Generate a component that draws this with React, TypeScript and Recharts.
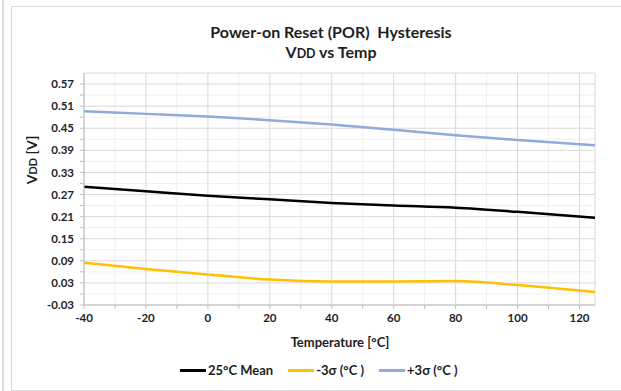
import React from "react";
import {
  LineChart,
  Line,
  XAxis,
  YAxis,
  CartesianGrid,
  ReferenceLine,
} from "recharts";

// ── Data (V vs °C) ─────────────────────────────────────────────────────────
const temps = [-40, -20, 0, 20, 40, 60, 80, 100, 125];
const mean25 = [0.291, 0.279, 0.267, 0.257, 0.247, 0.24, 0.234, 0.223, 0.207];
const minus3s = [0.085, 0.068, 0.053, 0.039, 0.034, 0.034, 0.035, 0.024, 0.005];
const plus3s = [0.496, 0.489, 0.482, 0.472, 0.46, 0.446, 0.431, 0.418, 0.404];

const yMajorTicks = [-0.03, 0.03, 0.09, 0.15, 0.21, 0.27, 0.33, 0.39, 0.45, 0.51, 0.57];
const yMinorTicks = [0, 0.06, 0.12, 0.18, 0.24, 0.3, 0.36, 0.42, 0.48, 0.54];
const xMajorTicks = [-40, -20, 0, 20, 40, 60, 80, 100, 120];
const xMinorTicks = [-30, -10, 10, 30, 50, 70, 90, 110];

const Y_MIN = -0.03;
const Y_MAX = 0.6;
const X_MIN = -40;
const X_MAX = 125;

const data = temps.map((t, i) => ({
  t,
  mean: mean25[i],
  minus: minus3s[i],
  plus: plus3s[i],
}));

const FONT = "Lato, 'Open Sans', sans-serif";
const TEXT = "#1e1e1e";
const AXIS = "#bfbfbf";

const series = [
  { key: "mean", name: "25°C Mean", color: "#000000" },
  { key: "minus", name: "-3σ (°C )", color: "#ffc000" },
  { key: "plus", name: "+3σ (°C )", color: "#8faadc" },
];

const isIn = (list: number[], v: number) => list.some((x) => Math.abs(x - v) < 1e-9);

// V with small "DD"
function Vdd() {
  return (
    <>
      V<span style={{ fontSize: "0.78em" }}>DD</span>
    </>
  );
}

export default function App() {
  return (
    <div
      style={{
        position: "absolute",
        left: 0,
        top: 0,
        width: 621,
        height: 391,
        background: "#fff",
        overflow: "hidden",
        fontFamily: FONT,
        color: TEXT,
      }}
    >
      {/* frame */}
      <div style={{ position: "absolute", left: 2, top: 0, width: 2, height: 391, background: "#dcdcdc" }} />
      <div
        style={{
          position: "absolute",
          left: 11,
          top: 6,
          width: 640,
          height: 383,
          border: "1px solid #d9d9d9",
        }}
      />

      {/* title */}
      <div
        style={{
          position: "absolute",
          left: 131,
          top: 22,
          width: 400,
          textAlign: "center",
          fontSize: 16,
          fontWeight: 700,
          lineHeight: "20px",
        }}
      >
        <div>Power-on Reset (POR)&nbsp; Hysteresis</div>
        <div>
          <Vdd /> vs Temp
        </div>
      </div>

      <LineChart
        width={621}
        height={391}
        data={data}
        margin={{ top: 73, right: 26, bottom: 56, left: 24 }}
        style={{ position: "absolute", left: 0, top: 0 }}
      >
        {/* minor grid */}
        <CartesianGrid
          stroke="#f0f0f0"
          strokeWidth={1}
          horizontalValues={yMinorTicks}
          verticalValues={xMinorTicks}
        />
        {/* major grid */}
        <CartesianGrid
          stroke="#d9d9d9"
          strokeWidth={1}
          horizontalValues={yMajorTicks}
          verticalValues={xMajorTicks}
        />
        <ReferenceLine y={Y_MAX} stroke="#d9d9d9" />
        <ReferenceLine x={X_MAX} stroke="#d9d9d9" />
        <XAxis
          dataKey="t"
          type="number"
          domain={[X_MIN, X_MAX]}
          ticks={[...xMajorTicks, ...xMinorTicks].sort((a, b) => a - b)}
          interval={0}
          allowDataOverflow
          tickFormatter={(v: number) => (isIn(xMajorTicks, v) ? String(v) : "")}
          tick={{ fill: TEXT, fontSize: 11.5, fontWeight: 700, fontFamily: FONT }}
          axisLine={{ stroke: AXIS }}
          tickLine={{ stroke: AXIS }}
          tickSize={4}
          tickMargin={5}
          height={30}
        />
        <YAxis
          type="number"
          domain={[Y_MIN, Y_MAX]}
          ticks={[...yMajorTicks, ...yMinorTicks].sort((a, b) => a - b)}
          interval={0}
          allowDataOverflow
          tickFormatter={(v: number) => (isIn(yMajorTicks, v) ? v.toFixed(2) : "")}
          tick={{ fill: TEXT, fontSize: 11.5, fontWeight: 700, fontFamily: FONT }}
          axisLine={{ stroke: AXIS }}
          tickLine={{ stroke: AXIS }}
          tickSize={4}
          tickMargin={6}
          width={60}
        />
        {series.map((s) => (
          <Line
            key={s.key}
            type="monotone"
            dataKey={s.key}
            name={s.name}
            stroke={s.color}
            strokeWidth={2.5}
            dot={false}
            isAnimationActive={false}
          />
        ))}
      </LineChart>

      {/* axis titles */}
      <div
        style={{
          position: "absolute",
          left: 31,
          top: 160,
          transform: "translate(-50%, -50%) rotate(-90deg)",
          fontSize: 14,
          fontWeight: 700,
          whiteSpace: "nowrap",
        }}
      >
        <Vdd /> [V]
      </div>
      <div
        style={{
          position: "absolute",
          left: 140,
          top: 334,
          width: 400,
          textAlign: "center",
          fontSize: 13,
          fontWeight: 700,
        }}
      >
        Temperature [°C]
      </div>

      {/* legend */}
      <div
        style={{
          position: "absolute",
          left: 180,
          top: 362,
          display: "flex",
          alignItems: "center",
          gap: 15,
          fontSize: 13,
          fontWeight: 700,
        }}
      >
        {series.map((s) => (
          <div key={s.key} style={{ display: "flex", alignItems: "center" }}>
            <span style={{ display: "inline-block", width: 26, height: 3, background: s.color, marginRight: 2 }} />
            <span>{s.name}</span>
          </div>
        ))}
      </div>
    </div>
  );
}
